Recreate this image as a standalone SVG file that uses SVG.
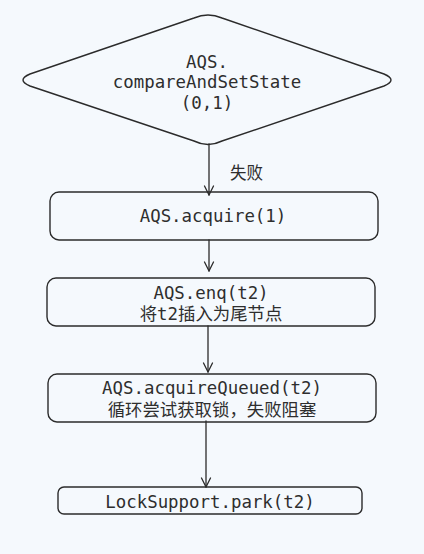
<svg xmlns="http://www.w3.org/2000/svg" width="424" height="554" viewBox="0 0 424 554">
<defs>
<style>
.bg{fill:#f5f9fd}
.shape{fill:none;stroke:#2b2b2b;stroke-width:1.4;stroke-linejoin:round}
.edge{fill:none;stroke:#2b2b2b;stroke-width:1.3;stroke-linecap:round}
.t{font-family:"DejaVu Sans Mono","Noto Sans CJK SC",monospace;font-size:17.4px;fill:#2e2e2e;text-anchor:middle;dominant-baseline:central}
.lbl{font-family:"Noto Sans CJK SC",sans-serif;font-size:16.5px;fill:#2e2e2e;dominant-baseline:central}
</style>
<marker id="arr" viewBox="0 0 12 12" refX="10" refY="6" markerWidth="12" markerHeight="12" markerUnits="userSpaceOnUse" orient="auto">
<path d="M1,1.5 L10,6 L1,10.5" fill="none" stroke="#2b2b2b" stroke-width="1.3" stroke-linecap="round" stroke-linejoin="round"/>
</marker>
</defs>
<rect class="bg" x="0" y="0" width="424" height="554"/>
<g id="connectors">
<line class="edge" x1="209" y1="144" x2="209" y2="195" marker-end="url(#arr)"/>
<line class="edge" x1="209" y1="240" x2="209" y2="271" marker-end="url(#arr)"/>
<line class="edge" x1="208" y1="326" x2="208" y2="372" marker-end="url(#arr)"/>
<line class="edge" x1="206" y1="421" x2="206" y2="487" marker-end="url(#arr)"/>
<text class="lbl" x="230" y="172">失败</text>
</g>
<g id="n-cas">
<path class="shape" d="M30,74 L194,18 Q208,12 222,18 L384,74 Q398,80 384,86 L222,141 Q208,148 194,141 L30,86 Q16,80 30,74 Z"/>
<text class="t" x="207" y="62">AQS.</text>
<text class="t" x="207" y="82">compareAndSetState</text>
<text class="t" x="207" y="103">(0,1)</text>
</g>
<g id="n-acquire">
<rect class="shape" x="50" y="192" width="328" height="48" rx="9"/>
<text class="t" x="213" y="216">AQS.acquire(1)</text>
</g>
<g id="n-enq">
<rect class="shape" x="47" y="278" width="328" height="48" rx="9"/>
<text class="t" x="211" y="293">AQS.enq(t2)</text>
<text class="t" x="211" y="314">将t2插入为尾节点</text>
</g>
<g id="n-acquireQueued">
<rect class="shape" x="48" y="374" width="328" height="48" rx="9"/>
<text class="t" x="212" y="388">AQS.acquireQueued(t2)</text>
<text class="t" x="212" y="410">循环尝试获取锁，失败阻塞</text>
</g>
<g id="n-park">
<rect class="shape" x="58" y="487" width="304" height="27" rx="6"/>
<text class="t" x="210" y="502">LockSupport.park(t2)</text>
</g>
</svg>
